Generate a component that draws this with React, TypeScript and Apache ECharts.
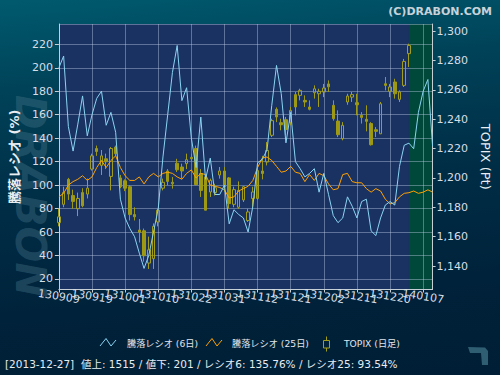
import React, { useEffect, useRef } from "react";
import * as echarts from "echarts";

const categories = [
  "130909", "130910", "130911", "130912", "130913", "130917", "130918", "130919", "130920", "130924",
  "130925", "130926", "130927", "130930", "131001", "131002", "131003", "131004", "131007", "131008",
  "131009", "131010", "131011", "131015", "131016", "131017", "131018", "131021", "131022", "131023",
  "131024", "131025", "131028", "131029", "131030", "131031", "131101", "131105", "131106", "131107",
  "131108", "131111", "131112", "131113", "131114", "131115", "131118", "131119", "131120", "131121",
  "131122", "131125", "131126", "131127", "131128", "131129", "131202", "131203", "131204", "131205",
  "131206", "131209", "131210", "131211", "131212", "131213", "131216", "131217", "131218", "131219",
  "131220", "131224", "131225", "131226", "131227", "131230", "140106", "140107", "140108", "140109",
];

// 騰落レシオ (6日)
const ratio6 = [
  200, 210, 150, 129, 152, 176, 142, 160, 174, 180,
  151, 162, 145, 88, 72, 63, 56, 42, 29, 40,
  60, 80, 124, 160, 196, 219, 172, 183, 140, 115,
  158, 105, 123, 92, 92, 100, 67, 79, 75, 72,
  60, 82, 119, 122, 130, 168, 202, 178, 136, 162,
  120, 114, 107, 110, 114, 94, 110, 92, 74, 68,
  72, 90, 82, 72, 86, 88, 61, 57, 72, 83,
  86, 83, 116, 134, 135.76, 131, 162, 180, 190, 133,
];

// 騰落レシオ (25日)
const ratio25 = [
  90, 93, 100, 103, 105, 108, 104, 107, 115, 121,
  115, 121, 125, 115, 108, 104, 104, 107, 101, 107,
  110, 107, 110, 111, 110, 107, 105, 110, 113, 106,
  110, 109, 100, 99, 98, 96, 89, 90, 95, 97,
  99, 104, 115, 123, 124, 121, 116, 111, 112, 116,
  111, 110, 103, 109, 104, 110, 108, 101, 96, 97,
  109, 110, 103, 102, 102, 97, 94, 97, 95, 88,
  84, 85, 90, 93, 93.54, 95, 93, 94, 96, 94,
];

// TOPIX (日足)
const topixOpen = [
  1169.5, 1182, 1199, 1188, 1179, 1190, 1189, 1206, 1220, 1208.5,
  1213, 1201, 1221, 1200, 1198, 1194, 1175, 1164.5, 1164, 1142,
  1145, 1170, 1193, 1204.7, 1197, 1210, 1207.4, 1209.7, 1214, 1220,
  1203, 1200.6, 1190.4, 1190, 1202, 1204.7, 1200, 1182, 1180, 1185,
  1171, 1186, 1186, 1204.7, 1210.8, 1229, 1246.7, 1237.6, 1239.6, 1237.6,
  1256.7, 1256.2, 1252.8, 1248.3, 1258, 1257.3, 1258.5, 1264, 1249.4, 1238.7,
  1226.7, 1251.7, 1255, 1251.2, 1242.6, 1239.9, 1237, 1232.8, 1230, 1264.1,
  1259, 1265.3, 1253.5, 1263, 1284.6,
];
const topixClose = [
  1173.5, 1190, 1189, 1184, 1186, 1181, 1193, 1215, 1218, 1215,
  1211, 1220, 1216.5, 1194, 1193, 1175, 1173.5, 1163, 1147, 1151,
  1167, 1178, 1197, 1197.6, 1196, 1205.5, 1204.7, 1212.4, 1213, 1195.4,
  1191.5, 1178, 1198.3, 1193.3, 1204.7, 1194, 1182.5, 1192, 1191.5, 1194,
  1176.8, 1190.4, 1205, 1203, 1218.7, 1239, 1241.5, 1236.2, 1233, 1246,
  1248.3, 1259.6, 1251.7, 1246.7, 1260.7, 1259, 1261.2, 1262, 1240.3, 1229.4,
  1235.8, 1255.7, 1256.7, 1249.8, 1241.2, 1238.5, 1222.6, 1231.7, 1250.5, 1263,
  1261.9, 1257.3, 1258.5, 1279.3, 1290.2,
];
const topixLow = [
  1167, 1180, 1185, 1179, 1174, 1180, 1186, 1205, 1215, 1202,
  1206, 1191.5, 1215, 1193, 1191, 1171, 1171, 1156, 1143, 1138,
  1138, 1167, 1191.5, 1195, 1192.7, 1204, 1199.5, 1206, 1210.8, 1195,
  1187, 1178, 1187, 1188, 1199.5, 1190.4, 1179, 1180, 1179, 1183.6,
  1170, 1180, 1185, 1199, 1208.5, 1227.8, 1238, 1232.4, 1229, 1235.8,
  1242.6, 1252.8, 1248.3, 1246, 1254, 1248.3, 1255, 1258.5, 1239, 1227.8,
  1225.6, 1249.8, 1251.7, 1242.6, 1237, 1231.7, 1222, 1227.8, 1230, 1259.6,
  1255, 1254, 1251.7, 1261.9, 1275.5,
];
const topixHigh = [
  1179, 1194, 1200, 1192, 1190, 1193, 1199.5, 1216.5, 1222, 1219,
  1216.5, 1221, 1222, 1202, 1199, 1195, 1180, 1172, 1165.5, 1160,
  1169, 1179, 1199.5, 1206, 1200.6, 1213, 1209.7, 1216.5, 1216.5, 1222,
  1206, 1201.7, 1199.5, 1196, 1207.4, 1207.4, 1200.6, 1194, 1197.6, 1194.5,
  1179, 1194, 1206, 1215, 1224.4, 1240.3, 1248, 1240.3, 1241.5, 1248.3,
  1258.5, 1260.7, 1256.2, 1252.8, 1263, 1260.7, 1264, 1266.4, 1252.8, 1246,
  1238, 1257.3, 1258.5, 1257.3, 1244.8, 1249.4, 1238, 1234.6, 1251.7, 1268.7,
  1264, 1267.5, 1259.6, 1281, 1291.4,
];

const selectedDate = "131227";
const selectedLabel = "2013-12-27";
const advances = 1515;
const declines = 201;

const labelStep = 7;
const ratioAxisMin = 11.05;
const ratioAxisMax = 237.3;
const topixAxisMin = 1124;
const topixAxisMax = 1304.8;

const FONT = "'DejaVu Sans', 'Noto Sans CJK JP', sans-serif";
const TEXT = "#d6dee6";

export default function App() {
  const ref = useRef<HTMLDivElement>(null);

  useEffect(() => {
    if (!ref.current) return;
    const chart = echarts.init(ref.current, null, { renderer: "svg" });

    const candleData = topixOpen.map((o, i) => [o, topixClose[i], topixLow[i], topixHigh[i]]);
    const sel = categories.indexOf(selectedDate);
    const statusText =
      `[${selectedLabel}]  値上: ${advances} / 値下: ${declines} / レシオ6: ${ratio6[sel].toFixed(2)}% / レシオ25: ${ratio25[sel].toFixed(2)}%`;

    const xLabel = (phase: number) => ({
      interval: (i: number) => i % (labelStep * 2) === phase,
      rotate: -9,
      align: "center",
      verticalAlign: "middle",
      margin: 7,
      color: TEXT,
      fontSize: 11,
      fontFamily: FONT,
    });

    chart.setOption({
      animation: false,
      backgroundColor: "transparent",
      textStyle: { fontFamily: FONT },
      title: {
        text: "(C)DRABON.COM",
        right: 3,
        top: 1,
        textStyle: { color: "#c8d2d9", fontSize: 11, fontWeight: "bold", fontFamily: FONT },
      },
      grid: {
        left: 57,
        top: 24,
        width: 381,
        height: 265.5,
        show: true,
        backgroundColor: "#1a3262",
        borderWidth: 0,
      },
      xAxis: [
        {
          type: "category",
          data: categories,
          position: "bottom",
          boundaryGap: false,
          z: 2,
          axisLine: { lineStyle: { color: "#c6ced6", width: 1 } },
          axisTick: { show: true, interval: labelStep - 1, length: 3, lineStyle: { color: "#c6ced6" } },
          axisLabel: xLabel(0),
          splitLine: {
            show: true,
            interval: labelStep - 1,
            lineStyle: { color: "rgba(190,205,230,0.42)", width: 1 },
          },
        },
        {
          type: "category",
          data: categories,
          position: "bottom",
          boundaryGap: false,
          z: 2,
          axisLine: { show: false },
          axisTick: { show: false },
          axisLabel: xLabel(labelStep),
          splitLine: { show: false },
        },
      ],
      yAxis: [
        {
          type: "value",
          position: "left",
          min: ratioAxisMin,
          max: ratioAxisMax,
          splitNumber: 11,
          z: 2,
          name: "騰落レシオ (%)",
          nameLocation: "middle",
          nameRotate: 90,
          nameGap: 28,
          nameTextStyle: { color: "#e8eef2", fontSize: 13, fontWeight: "bold", fontFamily: FONT },
          axisLine: { show: true, lineStyle: { color: "#c6ced6", width: 1 } },
          axisTick: { show: true, length: 4, lineStyle: { color: "#c6ced6" } },
          axisLabel: { color: TEXT, fontSize: 11, margin: 6, showMinLabel: false, showMaxLabel: false, fontFamily: FONT },
          splitLine: { show: true, lineStyle: { color: "rgba(190,205,230,0.42)", width: 1 } },
        },
        {
          type: "value",
          position: "right",
          min: topixAxisMin,
          max: topixAxisMax,
          splitNumber: 9,
          z: 2,
          name: "TOPIX (Pt)",
          nameLocation: "middle",
          nameRotate: -90,
          nameGap: 42,
          nameTextStyle: { color: "#e8eef2", fontSize: 13, fontFamily: FONT },
          axisLine: { show: true, lineStyle: { color: "#c6ced6", width: 1 } },
          axisTick: { show: true, length: 3, lineStyle: { color: "#c6ced6" } },
          axisLabel: {
            color: TEXT,
            fontSize: 11,
            margin: 4,
            showMinLabel: false,
            showMaxLabel: false,
            fontFamily: FONT,
            formatter: (v: number) => v.toLocaleString("en-US"),
          },
          splitLine: { show: false },
        },
      ],
      series: [
        {
          name: "highlight",
          type: "line",
          data: [],
          z: 1,
          silent: true,
          markArea: {
            silent: true,
            itemStyle: { color: "#00483a", opacity: 1 },
            data: [[{ xAxis: selectedDate }, { xAxis: categories[categories.length - 1] }]],
          },
        },
        {
          name: "TOPIX (日足)",
          type: "candlestick",
          yAxisIndex: 1,
          data: candleData,
          barWidth: 3,
          z: 3,
          itemStyle: {
            color: "transparent",
            borderColor: "#a29e1c",
            color0: "#9d9914",
            borderColor0: "#9d9914",
            borderWidth: 1,
          },
        },
        {
          name: "騰落レシオ (25日)",
          type: "line",
          yAxisIndex: 0,
          data: ratio25,
          showSymbol: false,
          symbol: "none",
          z: 4,
          lineStyle: { color: "#ffa200", width: 1 },
        },
        {
          name: "騰落レシオ (6日)",
          type: "line",
          yAxisIndex: 0,
          data: ratio6,
          showSymbol: false,
          symbol: "none",
          z: 4,
          lineStyle: { color: "#8ad4f2", width: 1 },
        },
      ],
      graphic: [
        {
          type: "text",
          x: 30,
          y: 196,
          rotation: -Math.PI / 2,
          z: -1,
          style: {
            text: "DRABON",
            fill: "rgba(80,125,145,0.36)",
            font: "italic bold 42px 'DejaVu Sans'",
            align: "center",
            verticalAlign: "middle",
          },
        },
        {
          type: "polyline",
          shape: { points: [[100, 346], [106, 338.5], [111, 346], [116, 340]] },
          style: { stroke: "#8ad4f2", lineWidth: 1, fill: "none" },
        },
        {
          type: "text",
          x: 127,
          y: 343,
          style: { text: "騰落レシオ (6日)", fill: "#e0e6ec", font: `9.2px ${FONT}`, verticalAlign: "middle" },
        },
        {
          type: "polyline",
          shape: { points: [[206, 346], [212, 338.5], [217, 346], [222, 340]] },
          style: { stroke: "#ffa200", lineWidth: 1, fill: "none" },
        },
        {
          type: "text",
          x: 232,
          y: 343,
          style: { text: "騰落レシオ (25日)", fill: "#e0e6ec", font: `9.2px ${FONT}`, verticalAlign: "middle" },
        },
        {
          type: "line",
          shape: { x1: 326.5, y1: 336.5, x2: 326.5, y2: 351.5 },
          style: { stroke: "#a29e1c", lineWidth: 1 },
        },
        {
          type: "rect",
          shape: { x: 323.5, y: 340.5, width: 6, height: 7.5 },
          style: { stroke: "#a29e1c", lineWidth: 1, fill: "#002238" },
        },
        {
          type: "text",
          x: 344,
          y: 343,
          style: { text: "TOPIX (日足)", fill: "#e0e6ec", font: `9.2px ${FONT}`, verticalAlign: "middle" },
        },
        {
          type: "text",
          x: 5,
          y: 364,
          style: { text: statusText, fill: "#e6ecf0", font: `10.5px ${FONT}`, verticalAlign: "middle" },
        },
        {
          type: "polygon",
          shape: {
            points: [[468, 347], [485, 347.5], [488, 351], [488, 365], [482, 365], [481, 353], [470, 353]],
          },
          style: { fill: "#2f5d72" },
        },
      ],
    });

    return () => chart.dispose();
  }, []);

  return (
    <div
      style={{
        position: "absolute",
        left: 0,
        top: 0,
        width: 500,
        height: 375,
        background: "linear-gradient(175deg, #005a6e 0%, #004258 22%, #002d46 50%, #002139 80%, #001f36 100%)",
      }}
    >
      <div ref={ref} style={{ width: 500, height: 375 }} />
    </div>
  );
}
